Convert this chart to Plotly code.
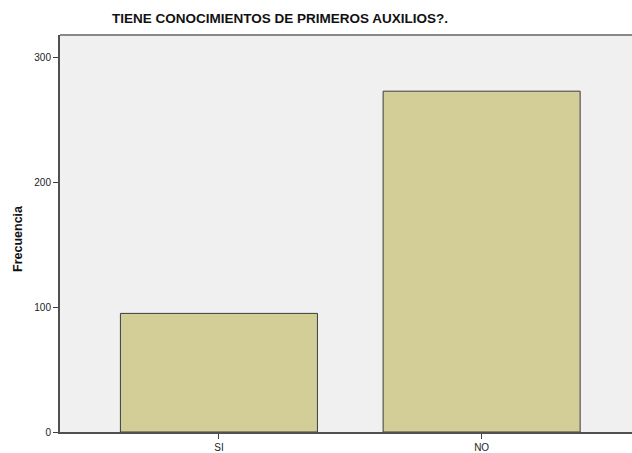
import plotly.graph_objects as go

categories = ["SI", "NO"]
frecuencia = [95, 273]
y_ticks = [0, 100, 200, 300]

W, H = 632, 453
L, T, B = 60, 35, 453 - 434
plot_w = W - L
plot_h = H - T - B


def px_x(x):
    return (x - 60) / plot_w


def px_y(y):
    return (434 - y) / plot_h


fig = go.Figure(go.Bar(
    x=categories, y=frecuencia,
    marker=dict(color="#d3ce97", line=dict(color="#3c3c3c", width=1)),
    width=0.75,
))

fig.update_layout(
    width=W, height=H,
    margin=dict(l=L, r=0, t=T, b=B, pad=0),
    paper_bgcolor="white", plot_bgcolor="#f0f0f0",
    showlegend=False,
    font=dict(family="Liberation Sans, Arial, sans-serif", color="#222", size=10),
    xaxis=dict(
        range=[-0.605, -0.605 + plot_w / 262.7], showgrid=False, zeroline=False,
        showline=True, linecolor="#505050", linewidth=2,
        ticks="outside", ticklen=5, tickcolor="#404040", tickwidth=1,
        tickfont=dict(size=10, color="#222"),
    ),
    yaxis=dict(
        range=[0, 318], showgrid=False, zeroline=False,
        showline=True, linecolor="#505050", linewidth=2,
        ticks="outside", ticklen=5, tickcolor="#404040", tickwidth=1,
        tickvals=y_ticks, tickfont=dict(size=10, color="#222"),
    ),
    shapes=[dict(type="line", xref="paper", yref="paper", x0=0, x1=1, y0=1, y1=1,
                 line=dict(color="#888888", width=2))],
    annotations=[
        dict(text="<b>TIENE CONOCIMIENTOS DE PRIMEROS AUXILIOS?.</b>",
             xref="paper", yref="paper",
             x=px_x(280), y=px_y(18),
             xanchor="center", yanchor="middle", showarrow=False,
             font=dict(size=13.5, color="#111")),
        dict(text="<b>Frecuencia</b>", textangle=-90,
             xref="paper", yref="paper",
             x=px_x(18), y=px_y(240),
             xanchor="center", yanchor="middle", showarrow=False,
             font=dict(size=12.5, color="#111")),
    ],
)

fig.write_html(
    "out.html",
    config={"displayModeBar": False},
    post_script="document.body.style.margin='0';document.body.style.overflow='hidden';",
)
